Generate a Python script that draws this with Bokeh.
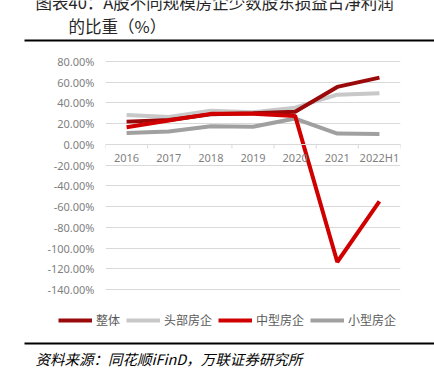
import numpy as np
from bokeh.plotting import figure
from bokeh.models import (FactorRange, Range1d, FixedTicker, PrintfTickFormatter,
                          Legend, LegendItem, ColumnDataSource)
from bokeh.transform import dodge
from bokeh.layouts import column
from bokeh.core.properties import value
from bokeh.embed import file_html
from bokeh.resources import INLINE

# ---------------- data ----------------
title_line1 = "图表40：A股不同规模房企少数股东损益占净利润"
title_line2 = "的比重（%）"
source_text = "资料来源：同花顺iFinD，万联证券研究所"

categories = ["2016", "2017", "2018", "2019", "2020", "2021", "2022H1"]
series_names = ["整体", "头部房企", "中型房企", "小型房企"]
overall = [22, 23.5, 29, 30, 31.5, 55.5, 64.5]
top_firms = [28.5, 26.5, 32.5, 31, 35.5, 48, 49.5]
mid_firms = [16.5, 23, 29.5, 29.5, 27.5, -113.5, -55]
small_firms = [11, 12.5, 17.5, 17, 25, 10.5, 10]
y_ticks = [-140, -120, -100, -80, -60, -40, -20, 0, 20, 40, 60, 80]

colors = {"整体": "#9B0A0A", "头部房企": "#C8C8C8", "中型房企": "#D00000", "小型房企": "#A0A0A0"}

W = 434
CJK = "Noto Sans CJK SC"
H_HEAD, H_MAIN, H_FOOT = 45, 267, 65


def blank(h):
    f = figure(width=W, height=h, x_range=Range1d(0, W), y_range=Range1d(0, h),
               x_axis_type=None, y_axis_type=None, toolbar_location=None,
               output_backend="svg", min_border=0, outline_line_color=None,
               frame_align=False)
    f.grid.visible = False
    return f


# ---------------- header ----------------
head = blank(H_HEAD)
head.text(x=[35, 68], y=[44, 20], text=[title_line1, title_line2],
          text_font=value(CJK), text_font_size="16.5px", text_color="#262626",
          text_baseline="middle", text_align="left")
head.segment(x0=[24], y0=[5], x1=[W], y1=[5], line_color="#000000", line_width=2)

# ---------------- main chart ----------------
p = figure(width=W, height=H_MAIN, x_range=FactorRange(*categories),
           y_range=Range1d(-141, 81), toolbar_location=None, output_backend="svg",
           min_border_left=105, min_border_right=34, min_border_top=15,
           min_border_bottom=22, outline_line_color=None, frame_align=False)

src = ColumnDataSource(dict(cat=categories, overall=overall, top=top_firms,
                            mid=mid_firms, small=small_firms))

p.xgrid.visible = False
p.ygrid.grid_line_color = "#D9D9D9"
p.ygrid.grid_line_width = 1

p.yaxis.ticker = FixedTicker(ticks=y_ticks)
p.yaxis.formatter = PrintfTickFormatter(format="%.2f%%")
p.yaxis.axis_line_color = None
p.yaxis.major_tick_line_color = None
p.yaxis.minor_tick_line_color = None
p.yaxis.major_tick_out = 0
p.yaxis.minor_tick_out = 0
p.yaxis.major_label_standoff = 11
p.yaxis.major_label_text_font = "Noto Sans"
p.yaxis.major_label_text_font_size = "11px"
p.yaxis.major_label_text_color = "#7F7F7F"

p.xaxis.fixed_location = 0
p.xaxis.axis_line_color = "#D9D9D9"
p.xaxis.major_tick_line_color = None
p.xaxis.minor_tick_line_color = None
p.xaxis.major_tick_out = 0
p.xaxis.minor_tick_out = 0
p.xaxis.major_label_standoff = 6
p.xaxis.major_label_text_font = "Noto Sans"
p.xaxis.major_label_text_font_size = "11px"
p.xaxis.major_label_text_color = "#7F7F7F"

# boundary tick marks between categories
p.segment(x0=dodge("cat", -0.5, range=p.x_range), y0=0,
          x1=dodge("cat", -0.5, range=p.x_range), y1=-4,
          source=src, line_color="#D9D9D9", line_width=1)
last_src = ColumnDataSource(dict(cat=[categories[-1]]))
p.segment(x0=dodge("cat", 0.5, range=p.x_range), y0=0,
          x1=dodge("cat", 0.5, range=p.x_range), y1=-4,
          source=last_src, line_color="#D9D9D9", line_width=1)

p.line("cat", "top", source=src, line_color=colors["头部房企"], line_width=4)
p.line("cat", "small", source=src, line_color=colors["小型房企"], line_width=4)
p.line("cat", "overall", source=src, line_color=colors["整体"], line_width=4)
p.line("cat", "mid", source=src, line_color=colors["中型房企"], line_width=4)

# ---------------- footer: legend, rule, source ----------------
foot = blank(H_FOOT)
nan = np.array([np.nan])
proxies = [foot.line(x=nan, y=nan, line_color=colors[n], line_width=4) for n in series_names]
legend = Legend(items=[LegendItem(label=n, renderers=[r]) for n, r in zip(series_names, proxies)],
                orientation="horizontal", location=(58, 49),
                glyph_width=34, glyph_height=14, label_height=14,
                label_standoff=4, spacing=6, padding=0, margin=0,
                border_line_color=None, background_fill_alpha=0,
                label_text_font=CJK, label_text_font_size="12px",
                label_text_color="#595959")
foot.add_layout(legend, "center")
foot.segment(x0=[24], y0=[34], x1=[W], y1=[34], line_color="#000000", line_width=2)
foot.text(x=[35], y=[19], text=[source_text], text_font=value(CJK),
          text_font_size="14.5px", text_font_style="italic", text_color="#000000",
          text_baseline="middle", text_align="left")

layout = column(head, p, foot, spacing=0)
open("out.html", "w").write(file_html(layout, INLINE))
